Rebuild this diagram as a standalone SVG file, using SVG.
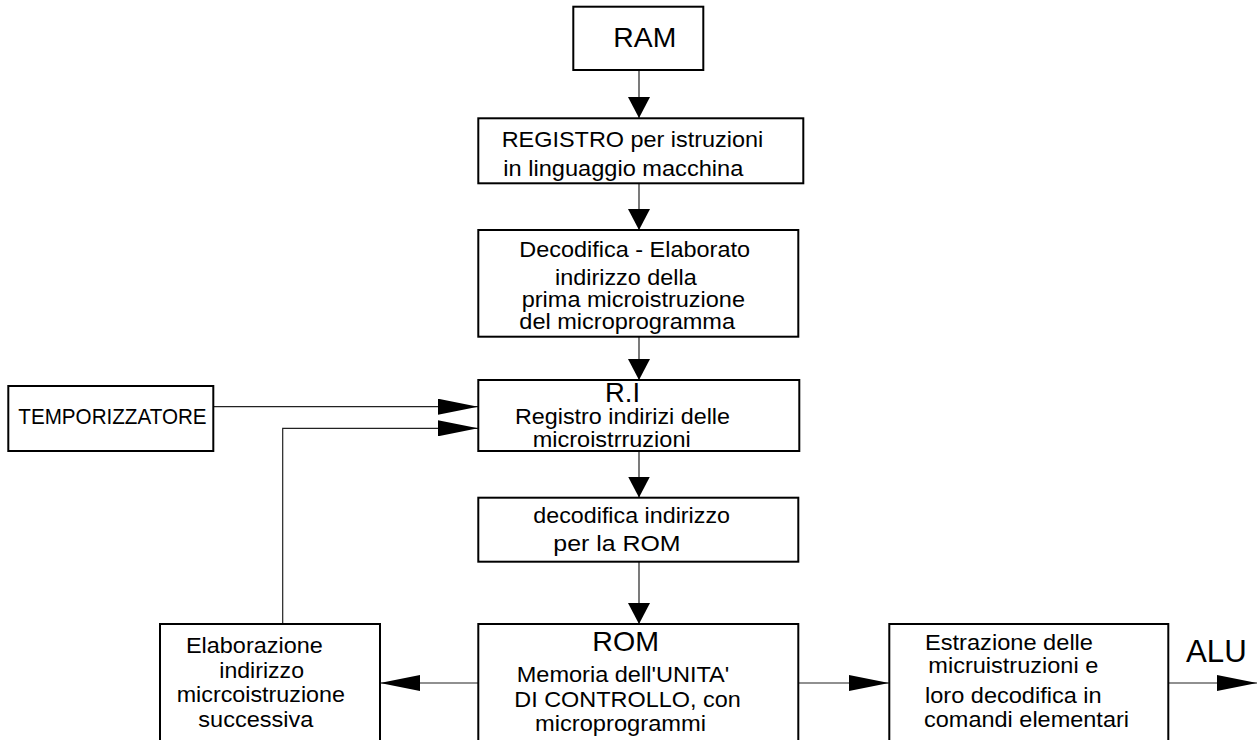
<svg xmlns="http://www.w3.org/2000/svg" width="1257" height="740" viewBox="0 0 1257 740">
<style>
.box{fill:#fff;stroke:#000;stroke-width:2}
.t{font-family:"Liberation Sans",Arial,sans-serif;font-size:22.5px;fill:#000}
.big{font-size:27.5px}
.alu{font-size:32px}
.c{fill:none;stroke:#222;stroke-width:1.2}
</style>
<defs>
<marker id="av" markerUnits="userSpaceOnUse" markerWidth="21" markerHeight="22" refX="21" refY="11" orient="auto">
<path d="M0,0 L21,11 L0,22 z" fill="#000"/>
</marker>
<marker id="ah" markerUnits="userSpaceOnUse" markerWidth="40" markerHeight="16" refX="40" refY="8" orient="auto">
<path d="M0,0 L40,8 L0,16 z" fill="#000"/>
</marker>
</defs>
<rect width="1257" height="740" fill="#fff"/>
<g id="connectors">
<path class="c" d="M639,70 V118" marker-end="url(#av)"/>
<path class="c" d="M639,183 V230" marker-end="url(#av)"/>
<path class="c" d="M639,337 V380" marker-end="url(#av)"/>
<path class="c" d="M639,451 V497.5" marker-end="url(#av)"/>
<path class="c" d="M639,562 V624" marker-end="url(#av)"/>
<path class="c" d="M213,406.7 H478" marker-end="url(#ah)"/>
<path class="c" d="M282.7,624 V428.3 H478" marker-end="url(#ah)"/>
<path class="c" d="M478,683 H380" marker-end="url(#ah)"/>
<path class="c" d="M798,683 H889" marker-end="url(#ah)"/>
<path class="c" d="M1168,683 H1257" marker-end="url(#ah)"/>
</g>
<g id="ram">
<rect class="box" x="573.3" y="6.7" width="130" height="63.3"/>
<text class="t big" x="613.3" y="46.7" textLength="63" lengthAdjust="spacingAndGlyphs">RAM</text>
</g>
<g id="registro">
<rect class="box" x="478.3" y="118.3" width="325" height="65"/>
<text class="t" x="501.7" y="146.7" textLength="261.6" lengthAdjust="spacingAndGlyphs">REGISTRO per istruzioni</text>
<text class="t" x="503.3" y="175.5" textLength="240" lengthAdjust="spacingAndGlyphs">in linguaggio macchina</text>
</g>
<g id="decodifica-elaborato">
<rect class="box" x="478.3" y="230" width="320" height="106.7"/>
<text class="t" x="519.3" y="256.7" textLength="230.7" lengthAdjust="spacingAndGlyphs">Decodifica - Elaborato</text>
<text class="t" x="555" y="285" textLength="141.7" lengthAdjust="spacingAndGlyphs">indirizzo della</text>
<text class="t" x="521.7" y="306.7" textLength="223.3" lengthAdjust="spacingAndGlyphs">prima microistruzione</text>
<text class="t" x="519.3" y="329.3" textLength="215.7" lengthAdjust="spacingAndGlyphs">del microprogramma</text>
</g>
<g id="ri">
<rect class="box" x="478.3" y="380" width="321" height="71"/>
<text class="t big" x="605" y="401.7" textLength="35" lengthAdjust="spacingAndGlyphs">R.I</text>
<text class="t" x="515" y="424" textLength="215" lengthAdjust="spacingAndGlyphs">Registro indirizi delle</text>
<text class="t" x="532.7" y="446.7" textLength="158" lengthAdjust="spacingAndGlyphs">microistrruzioni</text>
</g>
<g id="temporizzatore">
<rect class="box" x="8.3" y="386" width="205" height="65"/>
<text class="t" x="18.3" y="424.3" textLength="188.3" lengthAdjust="spacingAndGlyphs">TEMPORIZZATORE</text>
</g>
<g id="decodifica-rom">
<rect class="box" x="478.3" y="497.7" width="320" height="64"/>
<text class="t" x="533.3" y="522.7" textLength="196.7" lengthAdjust="spacingAndGlyphs">decodifica indirizzo</text>
<text class="t" x="553.3" y="551" textLength="127.3" lengthAdjust="spacingAndGlyphs">per la ROM</text>
</g>
<g id="elaborazione">
<rect class="box" x="160" y="624" width="220" height="140"/>
<text class="t" x="186" y="653.3" textLength="136.7" lengthAdjust="spacingAndGlyphs">Elaborazione</text>
<text class="t" x="219.3" y="677.7" textLength="84.7" lengthAdjust="spacingAndGlyphs">indirizzo</text>
<text class="t" x="176.7" y="701.7" textLength="168.3" lengthAdjust="spacingAndGlyphs">micrcoistruzione</text>
<text class="t" x="198.3" y="727.3" textLength="115" lengthAdjust="spacingAndGlyphs">successiva</text>
</g>
<g id="rom">
<rect class="box" x="478.3" y="624" width="320" height="140"/>
<text class="t big" x="592.3" y="651" textLength="66.7" lengthAdjust="spacingAndGlyphs">ROM</text>
<text class="t" x="516.7" y="681.7" textLength="212.6" lengthAdjust="spacingAndGlyphs">Memoria dell'UNITA'</text>
<text class="t" x="514.3" y="706.7" textLength="226.4" lengthAdjust="spacingAndGlyphs">DI CONTROLLO, con</text>
<text class="t" x="535" y="730.7" textLength="171" lengthAdjust="spacingAndGlyphs">microprogrammi</text>
</g>
<g id="estrazione">
<rect class="box" x="889.3" y="624" width="279" height="140"/>
<text class="t" x="925" y="650" textLength="168" lengthAdjust="spacingAndGlyphs">Estrazione delle</text>
<text class="t" x="928.3" y="672.7" textLength="170" lengthAdjust="spacingAndGlyphs">micruistruzioni e</text>
<text class="t" x="925" y="703.3" textLength="176.7" lengthAdjust="spacingAndGlyphs">loro decodifica in</text>
<text class="t" x="924" y="726.7" textLength="205" lengthAdjust="spacingAndGlyphs">comandi elementari</text>
</g>
<g id="alu">
<text class="t alu" x="1186" y="662.3" textLength="60.7" lengthAdjust="spacingAndGlyphs">ALU</text>
</g>
</svg>
